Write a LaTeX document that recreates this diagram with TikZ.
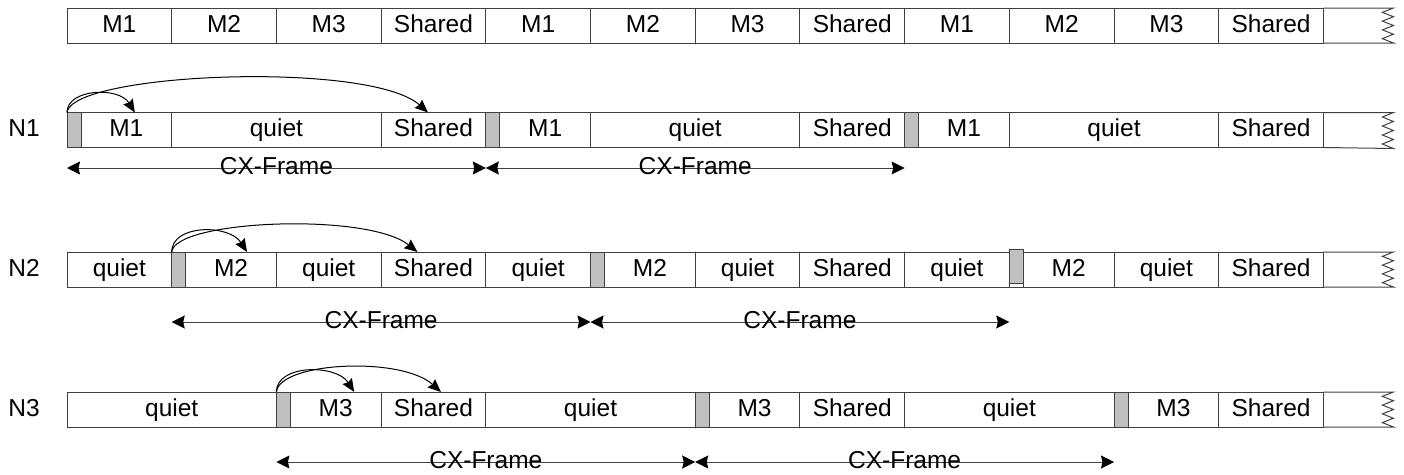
\documentclass[tikz,border=0pt]{standalone}
\usepackage{fontspec}
\setmainfont{Liberation Sans}
\usetikzlibrary{arrows.meta}
\definecolor{linec}{HTML}{404040}
\definecolor{gfill}{HTML}{C0C0C0}
\tikzset{
  txt/.style={font=\fontsize{24.5}{24.5}\selectfont, text height=17.6pt, text depth=4pt, inner sep=0pt},
  cell/.style={txt, draw=linec, line width=1pt, minimum height=35pt, outer sep=0pt, anchor=west},
  cw/.style={minimum width=#1pt},
  gblk/.style={cell, fill=gfill, minimum width=14pt},
  ln/.style={draw=linec, line width=1pt},
  cx/.style={draw=linec, line width=1pt, {Stealth[length=13pt,width=13pt,inset=1.5pt,color=black]}-{Stealth[length=13pt,width=13pt,inset=1.5pt,color=black]}},
  cxlab/.style={txt, text=black},
  arcl/.style={draw=black, line width=1pt, -{Stealth[length=13pt,width=11pt,inset=1.5pt]}},
  rowlab/.style={txt}
}
\begin{document}
\begin{tikzpicture}[x=1pt,y=-1pt]
\useasboundingbox (0,0) rectangle (1404,474);

% ---------- top row ----------
\foreach \i/\t in {0/M1,1/M2,2/M3,3/Shared,4/M1,5/M2,6/M3,7/Shared,8/M1,9/M2,10/M3,11/Shared}
  \node[cell,cw=104.7] (r0c\i) at (67+104.7*\i,25.5) {\t};
\draw[ln] (r0c11.north east) -- ++(70,0) -- ++(-11,4.375) -- ++(11,4.375) -- ++(-11,4.375) -- ++(11,4.375)
  -- ++(-11,4.375) -- ++(11,4.375) -- ++(-11,4.375) -- ++(11,4.375) -- (r0c11.south east);

% ---------- N1 ----------
\node[rowlab] (lN1) at (24,130) {N1};
\node[gblk] (g11) at (67,130) {};
\node[cell,cw=90.7] (m11) at (81,130) {M1};
\node[cell,cw=209.4] (q11) at (171.7,130) {quiet};
\node[cell,cw=104.7] (s11) at (381.1,130) {Shared};
\node[gblk] (g12) at (485.8,130) {};
\node[cell,cw=90.7] (m12) at (499.8,130) {M1};
\node[cell,cw=209.4] (q12) at (590.5,130) {quiet};
\node[cell,cw=104.7] (s12) at (799.9,130) {Shared};
\node[gblk] (g13) at (904.6,130) {};
\node[cell,cw=90.7] (m13) at (918.6,130) {M1};
\node[cell,cw=209.4] (q13) at (1009.3,130) {quiet};
\node[cell,cw=104.7] (s13) at (1218.7,130) {Shared};
\draw[ln] (s13.north east) -- ++(70,0) -- ++(-11,4.5) -- ++(11,4.5) -- ++(-11,4.5) -- ++(11,4.5)
  -- ++(-11,4.5) -- ++(11,4.5) -- ++(-11,4.5) -- ++(11,4.5) -- (s13.south east);

\draw[arcl] (g11.north west) .. controls +(0,-24) and +(-16,-26) .. ([xshift=8.5pt]m11.north);
\draw[arcl] (g11.north west) .. controls +(5,-40) and +(-58,-52) .. ([xshift=-5.5pt]s11.north);

\coordinate (c11) at ([yshift=-20.5pt]g11.south west);
\coordinate (c12) at ([yshift=-20.5pt]g12.south west);
\coordinate (c13) at ([yshift=-20.5pt]g13.south west);
\draw[cx] (c11) -- node[cxlab] {CX-Frame} (c12);
\draw[cx] (c12) -- node[cxlab] {CX-Frame} (c13);

% ---------- N2 ----------
\node[rowlab] (lN2) at (24,269.5) {N2};
\node[cell,cw=104.7] (q21) at (67,269.5) {quiet};
\node[gblk] (g21) at (171.7,269.5) {};
\node[cell,cw=90.7] (m21) at (185.7,269.5) {M2};
\node[cell,cw=104.7] (q22) at (276.4,269.5) {quiet};
\node[cell,cw=104.7] (s21) at (381.1,269.5) {Shared};
\node[cell,cw=104.7] (q23) at (485.8,269.5) {quiet};
\node[gblk] (g22) at (590.5,269.5) {};
\node[cell,cw=90.7] (m22) at (604.5,269.5) {M2};
\node[cell,cw=104.7] (q24) at (695.2,269.5) {quiet};
\node[cell,cw=104.7] (s22) at (799.9,269.5) {Shared};
\node[cell,cw=104.7] (q25) at (904.6,269.5) {quiet};
\node[cell,cw=90.7] (m23) at (1023.3,269.5) {M2};
\draw[ln] (q25.south east) -- (m23.south west);
\draw[ln] (q25.north east) -- (m23.north west);
\node[gblk, minimum height=34pt] (g23) at (1009.3,266) {};
\node[cell,cw=104.7] (q26) at (1114,269.5) {quiet};
\node[cell,cw=104.7] (s23) at (1218.7,269.5) {Shared};
\draw[ln] (s23.north east) -- ++(70,0) -- ++(-11,4.375) -- ++(11,4.375) -- ++(-11,4.375) -- ++(11,4.375)
  -- ++(-11,4.375) -- ++(11,4.375) -- ++(-11,4.375) -- ++(11,4.375) -- (s23.south east);

\draw[arcl] (g21.north west) .. controls +(0,-28) and +(-18,-28) .. ([xshift=16pt]m21.north);
\draw[arcl] (g21.north west) .. controls +(3,-32) and +(-50,-40) .. ([xshift=-16pt]s21.north);

\coordinate (c21) at ([yshift=-35pt]g21.south west);
\coordinate (c22) at ([yshift=-35pt]g22.south west);
\coordinate (c23) at (c22 -| g23.west);
\draw[cx] (c21) -- node[cxlab] {CX-Frame} (c22);
\draw[cx] (c22) -- node[cxlab] {CX-Frame} (c23);

% ---------- N3 ----------
\node[rowlab] (lN3) at (24,409.5) {N3};
\node[cell,cw=209.4] (q31) at (67,409.5) {quiet};
\node[gblk] (g31) at (276.4,409.5) {};
\node[cell,cw=90.7] (m31) at (290.4,409.5) {M3};
\node[cell,cw=104.7] (s31) at (381.1,409.5) {Shared};
\node[cell,cw=209.4] (q32) at (485.8,409.5) {quiet};
\node[gblk] (g32) at (695.2,409.5) {};
\node[cell,cw=90.7] (m32) at (709.2,409.5) {M3};
\node[cell,cw=104.7] (s32) at (799.9,409.5) {Shared};
\node[cell,cw=209.4] (q33) at (904.6,409.5) {quiet};
\node[gblk] (g33) at (1114,409.5) {};
\node[cell,cw=90.7] (m33) at (1128,409.5) {M3};
\node[cell,cw=104.7] (s33) at (1218.7,409.5) {Shared};
\draw[ln] (s33.north east) -- ++(70,0) -- ++(-11,4.375) -- ++(11,4.375) -- ++(-11,4.375) -- ++(11,4.375)
  -- ++(-11,4.375) -- ++(11,4.375) -- ++(-11,4.375) -- ++(11,4.375) -- (s33.south east);

\draw[arcl] (g31.north west) .. controls +(0,-28) and +(-18,-28) .. ([xshift=18.5pt]m31.north);
\draw[arcl] (g31.north west) .. controls +(3,-30) and +(-40,-36) .. ([xshift=7.5pt]s31.north);

\coordinate (c31) at ([yshift=-35pt]g31.south west);
\coordinate (c32) at ([yshift=-35pt]g32.south west);
\coordinate (c33) at ([yshift=-35pt]g33.south west);
\draw[cx] (c31) -- node[cxlab] {CX-Frame} (c32);
\draw[cx] (c32) -- node[cxlab] {CX-Frame} (c33);
\end{tikzpicture}
\end{document}
